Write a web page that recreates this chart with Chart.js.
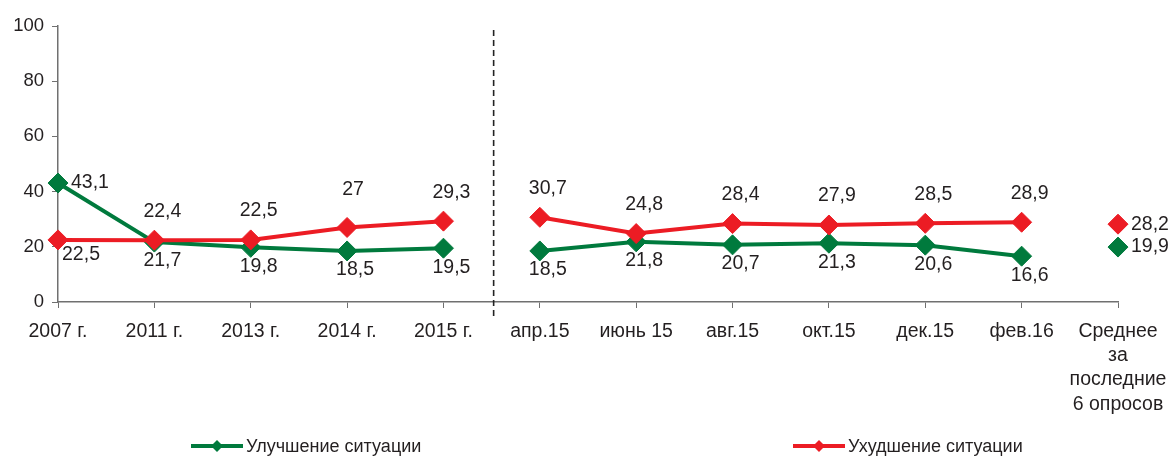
<!DOCTYPE html>
<html>
<head>
<meta charset="utf-8">
<script src="https://cdn.jsdelivr.net/npm/chart.js@4/dist/chart.umd.min.js"></script>
<style>
  html, body { margin: 0; padding: 0; background: #fff; }
  #wrap { width: 1170px; height: 458px; position: relative; }
</style>
</head>
<body>
<div id="wrap"><canvas id="chart"></canvas></div>
<script>
// Chart data
const categories = ['2007 г.', '2011 г.', '2013 г.', '2014 г.', '2015 г.', 'апр.15', 'июнь 15', 'авг.15', 'окт.15', 'дек.15', 'фев.16',
  ['Среднее', 'за', 'последние', '6 опросов']];
const improvement = [43.1, 21.7, 19.8, 18.5, 19.5, 18.5, 21.8, 20.7, 21.3, 20.6, 16.6, 19.9];
const worsening = [22.5, 22.4, 22.5, 27, 29.3, 30.7, 24.8, 28.4, 27.9, 28.5, 28.9, 28.2];
const seriesNames = ['Улучшение ситуации', 'Ухудшение ситуации'];
const yTicks = [0, 20, 40, 60, 80, 100];

// where each value label sits relative to its point
const improvementLabelPos = ['right', 'below', 'below', 'below', 'below', 'below', 'below', 'below', 'below', 'below', 'below', 'right'];
const worseningLabelPos = ['belowRight', 'above', 'above', 'aboveHigh', 'above', 'above', 'above', 'above', 'above', 'above', 'above', 'right'];

// segments that are not joined (before the dashed line and before the average)
const breakAfter = [4, 10];

const GREEN = '#007a3d';
const RED = '#ec1c24';
const FONT = '"Liberation Sans", Arial, sans-serif';
const TEXT = '#231f20';

Chart.defaults.font.family = FONT;
Chart.defaults.font.size = 18;
Chart.defaults.color = TEXT;

function fmt(v) {
  return String(v).replace('.', ',');
}

// value labels
const labelPlugin = {
  id: 'valueLabels',
  afterDatasetsDraw(chart) {
    const ctx = chart.ctx;
    ctx.save();
    ctx.font = '19.5px ' + FONT;
    ctx.fillStyle = TEXT;
    ctx.textBaseline = 'middle';
    chart.data.datasets.forEach((ds, i) => {
      const meta = chart.getDatasetMeta(i);
      meta.data.forEach((pt, j) => {
        const pos = ds.labelPos[j];
        let x = pt.x, y = pt.y;
        ctx.textAlign = 'center';
        if (pos === 'right') {
          ctx.textAlign = 'left';
          x += 13;
        } else if (pos === 'belowRight') {
          x += 23; y += 15;
        } else if (pos === 'above') {
          x += 8; y -= 29;
        } else if (pos === 'aboveHigh') {
          x += 6; y -= 38;
        } else {
          x += 8; y += 19;
        }
        ctx.fillText(fmt(ds.data[j]), x, y);
      });
    });
    ctx.restore();
  }
};

// dashed separator + legend
const extrasPlugin = {
  id: 'extras',
  afterDraw(chart) {
    const ctx = chart.ctx;
    const xs = chart.scales.x;
    const area = chart.chartArea;
    const sx = (xs.getPixelForValue(4) + xs.getPixelForValue(5)) / 2 + 2;
    ctx.save();
    ctx.strokeStyle = '#222';
    ctx.lineWidth = 1.6;
    ctx.setLineDash([6, 4]);
    ctx.beginPath();
    ctx.moveTo(sx, area.top + 4);
    ctx.lineTo(sx, area.bottom + 17);
    ctx.stroke();
    ctx.setLineDash([]);

    const items = [
      { x: 191, color: GREEN, text: seriesNames[0] },
      { x: 793, color: RED, text: seriesNames[1] }
    ];
    const ly = 446;
    items.forEach(it => {
      ctx.strokeStyle = it.color;
      ctx.lineWidth = 4;
      ctx.beginPath();
      ctx.moveTo(it.x, ly);
      ctx.lineTo(it.x + 52, ly);
      ctx.stroke();
      ctx.fillStyle = it.color;
      ctx.beginPath();
      const cx = it.x + 26, r = 6;
      ctx.moveTo(cx, ly - r);
      ctx.lineTo(cx + r, ly);
      ctx.lineTo(cx, ly + r);
      ctx.lineTo(cx - r, ly);
      ctx.closePath();
      ctx.fill();
      ctx.fillStyle = TEXT;
      ctx.font = '18px ' + FONT;
      ctx.textAlign = 'left';
      ctx.textBaseline = 'middle';
      ctx.fillText(it.text, it.x + 55, ly + 1);
    });
    ctx.restore();
  }
};

function gapSegment(color) {
  return ctx => breakAfter.includes(ctx.p0DataIndex) ? 'rgba(0,0,0,0)' : color;
}

new Chart(document.getElementById('chart'), {
  type: 'line',
  data: {
    labels: categories,
    datasets: [
      {
        label: seriesNames[0],
        data: improvement,
        labelPos: improvementLabelPos,
        borderColor: GREEN,
        backgroundColor: GREEN,
        borderWidth: 4,
        pointStyle: 'rectRot',
        pointRadius: 10,
        pointBorderWidth: 1,
        pointBackgroundColor: GREEN,
        pointBorderColor: GREEN,
        tension: 0,
        clip: false,
        order: 1,
        segment: { borderColor: gapSegment(GREEN) }
      },
      {
        label: seriesNames[1],
        data: worsening,
        labelPos: worseningLabelPos,
        borderColor: RED,
        backgroundColor: RED,
        borderWidth: 4,
        pointStyle: 'rectRot',
        pointRadius: 10,
        pointBorderWidth: 1,
        pointBackgroundColor: RED,
        pointBorderColor: RED,
        tension: 0,
        clip: false,
        order: 0,
        segment: { borderColor: gapSegment(RED) }
      }
    ]
  },
  options: {
    responsive: true,
    maintainAspectRatio: false,
    animation: false,
    layout: { padding: { top: 26, right: 52, left: 0, bottom: 0 } },
    plugins: {
      legend: { display: false },
      tooltip: { enabled: false }
    },
    scales: {
      x: {
        offset: false,
        grid: { drawOnChartArea: false, drawTicks: true, tickLength: 6, color: '#707070' },
        border: { color: '#707070', width: 1.5 },
        ticks: { maxRotation: 0, autoSkip: false, padding: 11, font: { size: 19.5, lineHeight: 1.25 } },
        afterFit(scale) {
          scale.height = 156;
          scale.paddingLeft = 0;
          scale.paddingRight = 0;
        }
      },
      y: {
        min: 0,
        max: 100,
        afterBuildTicks(scale) { scale.ticks = yTicks.map(v => ({ value: v })); },
        grid: { drawOnChartArea: false, drawTicks: true, tickLength: 6, color: '#707070' },
        border: { color: '#707070', width: 1.5 },
        ticks: { padding: 8, font: { size: 18.5 } },
        afterFit(scale) { scale.width = 58; }
      }
    }
  },
  plugins: [labelPlugin, extrasPlugin]
});
</script>
</body>
</html>
